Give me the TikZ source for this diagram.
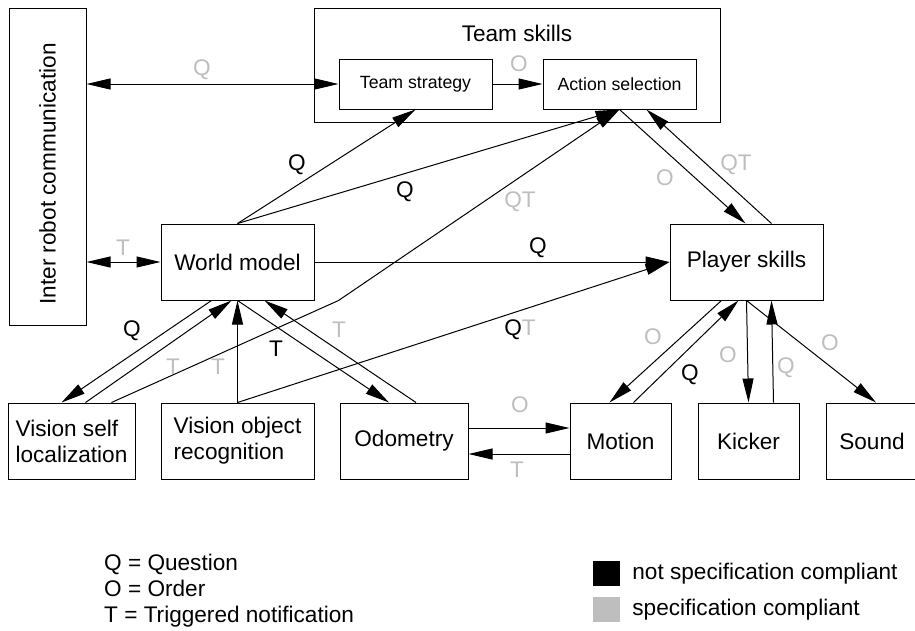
\documentclass[tikz,border=0pt]{standalone}
\usepackage{fontspec}
\setmainfont{Liberation Sans}
\usetikzlibrary{positioning,arrows.meta}
\definecolor{compliant}{RGB}{190,190,190}

\begin{document}
\begin{tikzpicture}[x=1pt, y=-1pt, node distance=25pt and 25pt, >={Triangle[length=24pt, width=11pt]},
    box/.style={rectangle, draw=black, fill=white, line width=1pt, align=left, font=\fontsize{22.6}{26}\selectfont, minimum width=153pt, minimum height=76pt},
    smallbox/.style={box, font=\fontsize{17.7}{21}\selectfont, minimum height=50pt},
    swatch/.style={rectangle, inner sep=0pt, minimum width=27pt, minimum height=25pt},
    link/.style={line width=1pt},
    tag/.style={font=\fontsize{22.6}{26}\selectfont, inner sep=0pt},
    gtag/.style={tag, text=compliant}]
        \useasboundingbox (0,0) rectangle (915,630);

        % Nodes
        \node[box, minimum width=406pt, minimum height=114pt, label={[tag, anchor=north, yshift=-17pt]north:Team skills}] (team) at (517,65) {};
        \node[smallbox] (strategy) at (415.5,84) {Team strategy};
        \node[smallbox] (action) [right=50pt of strategy] {Action selection};
        \node[box, minimum width=77pt, minimum height=317pt] (comm) at (47.5,166.5) {\rotatebox{90}{Inter robot communication\hspace*{15pt}}};
        \node[box] (world) at (237.5,262) {World model};
        \node[box] (player) [right=355pt of world] {Player skills};
        \node[box] (object) [below=102pt of world] {Vision object\\recognition};
        \node[box, minimum width=127pt] (selfloc) [left=of object] {Vision self\\localization};
        \node[box, minimum width=128pt] (odometry) [right=of object] {Odometry};
        \node[box, minimum width=101pt] (motion) [right=101pt of odometry] {Motion};
        \node[box, minimum width=101pt] (kicker) [right=26pt of motion] {Kicker};
        \node[box, minimum width=92pt] (sound) [right=26pt of kicker] {Sound};

        % Legend
        \node[tag, anchor=west, align=left] (key) at (104,591) {Q = Question\\O = Order\\T = Triggered notification};
        \node[swatch, fill=black] (black) at (606.5,573.5) {};
        \node[swatch, fill=compliant] (grey) [below=11pt of black] {};
        \node[tag] (blacktext) [right=12pt of black] {not specification compliant};
        \node[tag] (greytext) [right=12pt of grey] {specification compliant};

        % Edges
        \draw[<->, link] (comm.east |- strategy.west) -- (strategy.west);
        \draw[->, link] (strategy) -- (action);
        \draw[<->, link] (comm.east |- world.west) -- (world.west);
        \draw[->, link] (world.north) -- (strategy.south);
        \draw[->, link] (world.north) -- (action.south);
        \draw[->, link] (action.south) -- ([xshift=-1pt]player.north);
        \draw[->, link] ([xshift=25pt]player.north) -- ([xshift=27pt]action.south);
        \draw[->, link] (world) -- (player);
        \draw[->, link] (object.north) -- (player.west);
        \draw[->, link] ([xshift=40pt]selfloc.north) -- (strategy.west |- world.south) -- (action.south);
        \draw[->, link] ([xshift=-26pt]world.south) -- ([xshift=-10pt]selfloc.north);
        \draw[->, link] ([xshift=14pt]selfloc.north) -- ([xshift=-6pt]world.south);
        \draw[->, link] (object) -- (world);
        \draw[->, link] (world.south) -- ([xshift=-15pt]odometry.north);
        \draw[->, link] ([xshift=12pt]odometry.north) -- ([xshift=27pt]world.south);
        \draw[->, link] ([yshift=13pt]odometry.east) -- ([yshift=13pt]motion.west);
        \draw[->, link] ([yshift=-13pt]motion.west) -- ([yshift=-13pt]odometry.east);
        \draw[->, link] ([xshift=-25pt]player.south) -- ([xshift=-11pt]motion.north);
        \draw[->, link] ([xshift=13pt]motion.north) -- ([xshift=-8pt]player.south);
        \draw[->, link] (player.south) -- (kicker.north);
        \draw[->, link] ([xshift=25pt]kicker.north) -- ([xshift=25pt]player.south);
        \draw[->, link] (player.south) -- ([xshift=4pt]sound.north);

        % Labels
        \node[gtag] (qcomm) at (202,70) {Q};
        \node[gtag] (ostrategy) at (519,64) {O};
        \node[gtag] (tcomm) at (123,248) {T};
        \node[tag] (qstrategy) at (297,165) {Q};
        \node[tag] (qaction) at (405,192) {Q};
        \node[gtag] (qtself) at (520,202) {QT};
        \node[gtag] (oplayer) at (665,178) {O};
        \node[gtag] (qtplayer) at (736,165) {QT};
        \node[tag] (qworld) at (538,248) {Q};
        \node[tag] (qtobject) at (520,330) {Q\textcolor{compliant}{T}};
        \node[tag] (qself) at (132,331) {Q};
        \node[gtag] (tself) at (173,367) {T};
        \node[gtag] (tobject) at (218,367) {T};
        \node[tag] (todometry) at (276,349) {T};
        \node[gtag] (tworld) at (339,330) {T};
        \node[gtag] (omotion) at (520,405) {O};
        \node[gtag] (tmotion) at (517,470) {T};
        \node[gtag] (oplmotion) at (653,337) {O};
        \node[tag] (qmotion) at (690,375) {Q};
        \node[gtag] (okicker) at (728,355) {O};
        \node[gtag] (qkicker) at (786,368) {Q};
        \node[gtag] (osound) at (830,343) {O};
    \end{tikzpicture}
\end{document}
